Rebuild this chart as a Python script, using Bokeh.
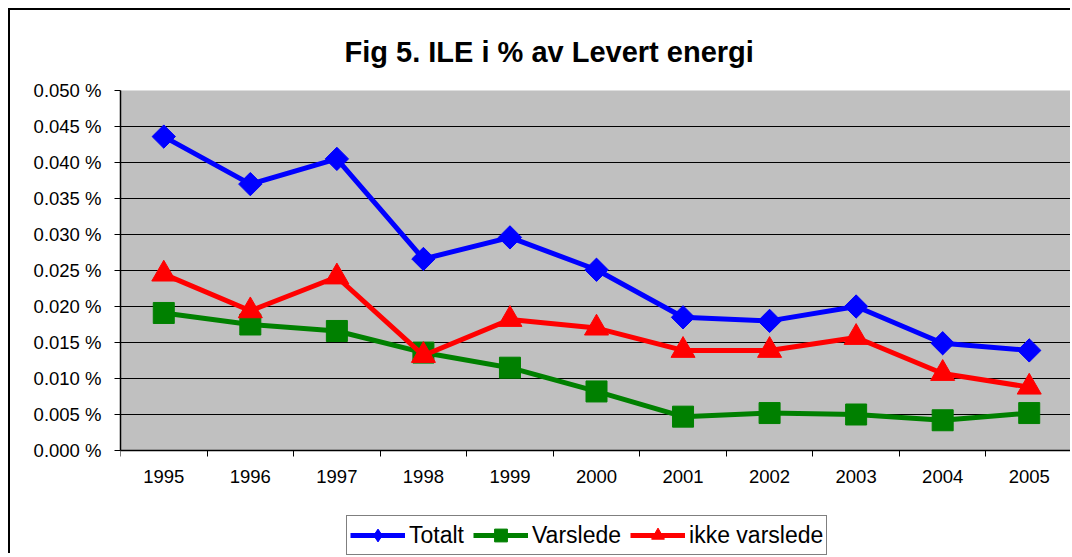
from bokeh.plotting import figure
from bokeh.models import (FixedTicker, PrintfTickFormatter, Legend, LegendItem, Title, Range1d, BoxAnnotation)
from bokeh.embed import file_html
from bokeh.resources import INLINE
import math

years = ["1995", "1996", "1997", "1998", "1999", "2000", "2001", "2002", "2003", "2004", "2005"]
totalt = [0.0436, 0.0370, 0.0405, 0.0266, 0.0296, 0.0251, 0.0185, 0.0180, 0.0200, 0.0149, 0.0139]
varslede = [0.0191, 0.0175, 0.0166, 0.0136, 0.0115, 0.0082, 0.0047, 0.0052, 0.0050, 0.0042, 0.0052]
ikke_varslede = [0.0245, 0.0194, 0.0241, 0.0132, 0.0182, 0.0170, 0.0139, 0.0139, 0.0157, 0.0107, 0.0088]
y_ticks = [0.000, 0.005, 0.010, 0.015, 0.020, 0.025, 0.030, 0.035, 0.040, 0.045, 0.050]
title_text = "Fig 5. ILE i % av Levert energi"

FONT = "Liberation Sans"
xs = list(range(len(years)))

# layout (pixels)
CANVAS_W, CANVAS_H = 1062, 545
TOP, LEFT = 80, 110
PLOT_H = 360                       # height of the grey plot area
BELOW = CANVAS_H - TOP - PLOT_H    # white space under the plot area, inside the frame
y_lo, y_hi = y_ticks[0], y_ticks[-1]
y_start = y_lo - (y_hi - y_lo) * BELOW / PLOT_H
x_lo, x_hi = -0.5, len(years) - 0.5

p = figure(width=CANVAS_W, height=CANVAS_H, output_backend="svg", toolbar_location=None,
           x_range=Range1d(x_lo, x_hi), y_range=Range1d(y_start, y_hi),
           min_border_left=LEFT, min_border_top=TOP, min_border_right=0, min_border_bottom=0)
p.styles = {"margin-left": "8px", "margin-top": "8px",
            "border-left": "2px solid black", "border-top": "2px solid black"}
p.background_fill_color = "white"
p.border_fill_color = "white"
p.outline_line_color = None

plot_area = BoxAnnotation(left=x_lo, right=x_hi, bottom=y_lo, top=y_hi,
                          fill_color="#C0C0C0", fill_alpha=1,
                          line_color="#808080", line_width=1, level="image")
p.add_layout(plot_area)

t = Title(text=title_text, align="left", text_font=FONT, text_font_size="29px",
          text_font_style="bold", text_color="black", standoff=45, offset=224)
p.add_layout(t, "above")

# y axis
p.yaxis.ticker = FixedTicker(ticks=y_ticks)
p.yaxis.formatter = PrintfTickFormatter(format="%.3f %%")
p.yaxis.bounds = (y_lo, y_hi)
p.yaxis.major_label_text_font = FONT
p.yaxis.major_label_text_font_size = "18.5px"
p.yaxis.major_label_text_color = "black"
p.yaxis.major_tick_out = 6
p.yaxis.major_tick_in = 0
p.yaxis.minor_tick_line_color = None
p.yaxis.axis_line_color = "black"
p.yaxis.axis_line_width = 1.5
p.yaxis.major_tick_line_color = "black"
p.yaxis.major_label_standoff = 13

# x axis, drawn at y = 0 inside the frame
bounds = [i - 0.5 for i in range(len(years) + 1)]
p.xaxis.fixed_location = y_lo
p.xaxis.ticker = FixedTicker(ticks=xs, minor_ticks=bounds)
p.xaxis.major_label_overrides = {i: y for i, y in zip(xs, years)}
p.xaxis.major_label_text_font = FONT
p.xaxis.major_label_text_font_size = "18.5px"
p.xaxis.major_label_text_color = "black"
p.xaxis.major_tick_line_color = None
p.xaxis.major_tick_out = 6
p.xaxis.major_tick_in = 0
p.xaxis.minor_tick_line_color = "black"
p.xaxis.minor_tick_out = 6
p.xaxis.minor_tick_in = 0
p.xaxis.axis_line_color = "black"
p.xaxis.axis_line_width = 1.5
p.xaxis.major_label_standoff = 13

p.xgrid.grid_line_color = None
p.ygrid.ticker = FixedTicker(ticks=y_ticks)
p.ygrid.grid_line_color = "black"
p.ygrid.grid_line_width = 1

# Totalt: narrow diamond (shown in legend), covered in the plot by a wider diamond
l_tot = p.line(xs, totalt, line_color="#0000FF", line_width=5)
d_tot = p.scatter(xs, totalt, marker="diamond", size=22, fill_color="#0000FF", line_color="#0000FF")
p.scatter(xs, totalt, marker="square", size=16.5, angle=math.pi / 4,
          fill_color="#0000FF", line_color="#0000FF")

l_var = p.line(xs, varslede, line_color="#008000", line_width=5)
s_var = p.scatter(xs, varslede, marker="square", size=21, fill_color="#008000", line_color="#008000")

l_ikke = p.line(xs, ikke_varslede, line_color="#FF0000", line_width=5)
s_ikke = p.scatter(xs, ikke_varslede, marker="triangle", size=24, fill_color="#FF0000", line_color="#FF0000")

items = [LegendItem(label="Totalt", renderers=[l_tot, d_tot]),
         LegendItem(label="Varslede", renderers=[l_var, s_var]),
         LegendItem(label="ikke varslede", renderers=[l_ikke, s_ikke])]

legend = Legend(items=items, orientation="horizontal", location=(226, 0),
                label_text_font=FONT, label_text_font_size="23px", label_text_color="black",
                glyph_width=55, glyph_height=32, label_height=32, label_standoff=4,
                spacing=9, padding=3, margin=0,
                border_line_color="black", border_line_width=1,
                background_fill_color="white", background_fill_alpha=1)
p.add_layout(legend, "center")

open("out.html", "w").write(file_html(p, INLINE))
